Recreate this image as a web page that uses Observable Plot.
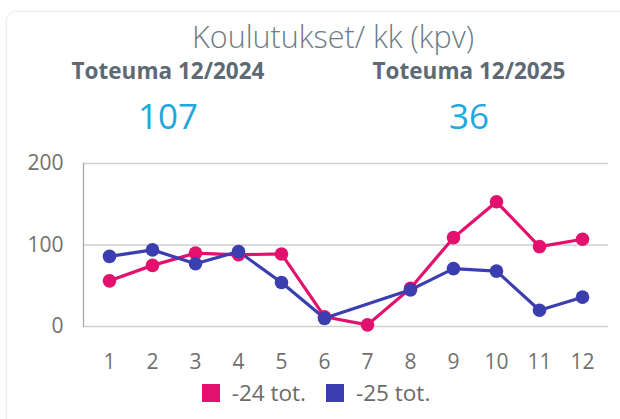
<!DOCTYPE html>
<html><head><meta charset="utf-8">
<script src="https://cdn.jsdelivr.net/npm/d3@7"></script>
<script src="https://cdn.jsdelivr.net/npm/@observablehq/plot@0.6"></script>
<style>
body{margin:0;width:620px;height:419px;overflow:hidden;background:#fff;font-family:"Open Sans","Noto Sans",sans-serif;position:relative}
.card{position:absolute;left:6px;top:11px;width:640px;height:440px;border:1px solid #eeeeee;border-radius:10px;box-shadow:0 0 3px rgba(0,0,0,0.05)}
.title{position:absolute;top:15px;left:0;width:666px;text-align:center;font-size:30.5px;font-weight:300;color:#6f7b86;white-space:nowrap}
.kpil{position:absolute;top:55px;width:260px;text-align:center;font-size:22.5px;font-weight:700;color:#5d6a74;white-space:nowrap}
.kpiv{position:absolute;top:92px;width:260px;text-align:center;font-size:35px;font-weight:400;color:#22a6de;white-space:nowrap}
#chart{position:absolute;left:0;top:140px}
.legend{position:absolute;top:377px;left:0;width:632px;display:flex;justify-content:center;gap:20px;font-size:22.5px;color:#6a6a6a}
.legend span.item{display:flex;align-items:center;gap:12px}
.legend i{display:inline-block;width:18px;height:18px}
</style></head>
<body>
<div class="card"></div>
<div class="title">Koulutukset/ kk (kpv)</div>
<div class="kpil" style="left:38px">Toteuma 12/2024</div>
<div class="kpil" style="left:339px">Toteuma 12/2025</div>
<div class="kpiv" id="v1" style="left:38px"></div>
<div class="kpiv" id="v2" style="left:339px"></div>
<div id="chart"></div>
<div class="legend" id="legend"></div>
<script>
const months = [1,2,3,4,5,6,7,8,9,10,11,12];
const series24 = [56,75,90,88,89,12,2,47,109,153,98,107];
const series25 = [86,94,77,92,54,10,null,45,71,68,20,36];
const seriesNames = ["-24 tot.","-25 tot."];
const seriesColors = ["#e3116e","#3b3eae"];
const yTicks = [0,100,200];
const kpiValues = [107,36];

document.getElementById("v1").textContent = kpiValues[0];
document.getElementById("v2").textContent = kpiValues[1];

const rows = [];
[series24, series25].forEach((vals, si) => {
  vals.forEach((v, i) => { if (v != null) rows.push({month: months[i], value: v, series: seriesNames[si]}); });
});

const chart = Plot.plot({
  width: 620,
  height: 240,
  marginLeft: 83,
  marginRight: 12,
  marginTop: 23,
  marginBottom: 54,
  style: {fontFamily: '"Open Sans","Noto Sans",sans-serif', fontSize: "21px", color: "#707070", background: "transparent"},
  x: {type: "point", domain: months, padding: 0.5, label: null},
  y: {domain: [0, 200], ticks: yTicks, label: null},
  color: {domain: seriesNames, range: seriesColors},
  marks: [
    Plot.gridY(yTicks, {stroke: "#cfcfcf", strokeOpacity: 1, strokeWidth: 1.3}),
    Plot.frame({anchor: "left", stroke: "#a8a8a8", strokeWidth: 1.3}),
    Plot.axisY(yTicks, {tickSize: 0, tickPadding: 20, label: null}),
    Plot.axisX(months, {tickSize: 0, tickPadding: 28, label: null}),
    Plot.line(rows, {x: "month", y: "value", stroke: "series", z: "series", strokeWidth: 3.2}),
    Plot.dot(rows, {x: "month", y: "value", fill: "series", r: 6.8})
  ]
});
document.getElementById("chart").appendChild(chart);

const legend = document.getElementById("legend");
seriesNames.forEach((n, i) => {
  const s = document.createElement("span");
  s.className = "item";
  const sw = document.createElement("i");
  sw.style.background = seriesColors[i];
  s.appendChild(sw);
  s.appendChild(document.createTextNode(n));
  legend.appendChild(s);
});
</script>
</body></html>
